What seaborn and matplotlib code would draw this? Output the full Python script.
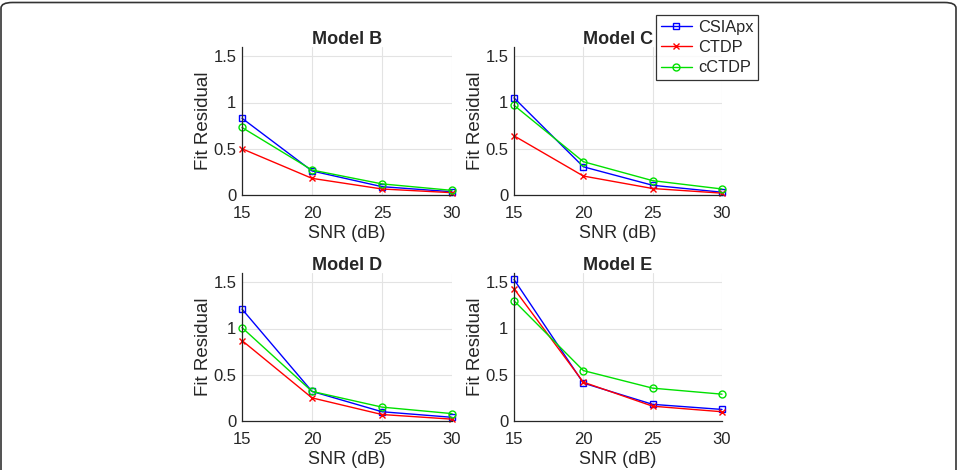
import numpy as np
import pandas as pd
import matplotlib
matplotlib.use("Agg")
import matplotlib.pyplot as plt
import seaborn as sns
from matplotlib.patches import FancyBboxPatch

snr = [15, 20, 25, 30]
methods = ["CSIApx", "CTDP", "cCTDP"]
models = ["Model B", "Model C", "Model D", "Model E"]

# fit residual per model, per method
model_b = {"CSIApx": [0.83, 0.26, 0.09, 0.035],
           "CTDP": [0.50, 0.18, 0.065, 0.025],
           "cCTDP": [0.73, 0.27, 0.12, 0.05]}
model_c = {"CSIApx": [1.05, 0.305, 0.105, 0.03],
           "CTDP": [0.64, 0.205, 0.07, 0.02],
           "cCTDP": [0.97, 0.36, 0.155, 0.065]}
model_d = {"CSIApx": [1.21, 0.32, 0.10, 0.04],
           "CTDP": [0.87, 0.25, 0.07, 0.02],
           "cCTDP": [1.01, 0.32, 0.15, 0.08]}
model_e = {"CSIApx": [1.53, 0.41, 0.18, 0.125],
           "CTDP": [1.43, 0.42, 0.16, 0.10],
           "cCTDP": [1.30, 0.545, 0.355, 0.29]}
all_data = [model_b, model_c, model_d, model_e]

colors = {"CSIApx": "#0000ff", "CTDP": "#ff0000", "cCTDP": "#00e000"}
markers = {"CSIApx": "s", "CTDP": "x", "cCTDP": "o"}

sns.set_style("white")
plt.rcParams["font.family"] = ["Liberation Sans", "DejaVu Sans"]

fig = plt.figure(figsize=(9.58, 4.70), dpi=100)

W, H = 958, 470
boxes = [(242, 47, 452, 195), (514, 47, 722, 195),
         (242, 273, 452, 421), (514, 273, 722, 421)]

axes = []
for (x0, y0, x1, y1), name, data in zip(boxes, models, all_data):
    ax = fig.add_axes([x0 / W, 1 - y1 / H, (x1 - x0) / W, (y1 - y0) / H])
    for m in methods:
        df = pd.DataFrame({"snr": snr, "res": data[m]})
        sns.lineplot(data=df, x="snr", y="res", ax=ax, color=colors[m],
                     marker=markers[m], markersize=5, linewidth=1.0,
                     markerfacecolor="none" if m != "CTDP" else colors[m],
                     markeredgecolor=colors[m], markeredgewidth=1.0,
                     label=m, legend=False, clip_on=False)
    ax.set_xlim(15, 30)
    ax.set_ylim(0, 1.6)
    ax.set_xticks([15, 20, 25, 30])
    ax.set_yticks([0, 0.5, 1, 1.5])
    ax.set_yticklabels(["0", "0.5", "1", "1.5"])
    ax.grid(True, color="#e3e3e3", linewidth=0.8)
    ax.set_axisbelow(True)
    for s in ["top", "right"]:
        ax.spines[s].set_visible(False)
    for s in ["left", "bottom"]:
        ax.spines[s].set_color("#262626")
        ax.spines[s].set_linewidth(0.9)
    ax.tick_params(direction="in", length=3, width=0.8, labelsize=12,
                   colors="#262626")
    ax.tick_params(axis="x", pad=8)
    ax.tick_params(axis="y", pad=4)
    ax.set_title(name, fontsize=13, fontweight="bold", pad=2)
    ax.set_xlabel("SNR (dB)", fontsize=13, labelpad=3)
    ax.set_ylabel("Fit Residual", fontsize=13.5, labelpad=1)
    axes.append(ax)

handles, labels = axes[0].get_legend_handles_labels()
leg = fig.legend(handles, labels, loc="upper left",
                 bbox_to_anchor=(656 / W, 1 - 15 / H), fontsize=11.8,
                 frameon=True, fancybox=False, edgecolor="black",
                 borderpad=0.3, labelspacing=0.32, handlelength=1.9,
                 handletextpad=0.35, borderaxespad=0)
leg.get_frame().set_linewidth(0.9)

# rounded outer frame (bottom runs off the image)
frame = FancyBboxPatch((1.0 / W, -0.2), 1 - 3.0 / W, 1.2 - 2.5 / H,
                       boxstyle="round,pad=0,rounding_size=0.012",
                       transform=fig.transFigure, facecolor="none",
                       edgecolor="#333333", linewidth=1.2)
fig.patches.append(frame)

fig.savefig("out.png", dpi=100)
